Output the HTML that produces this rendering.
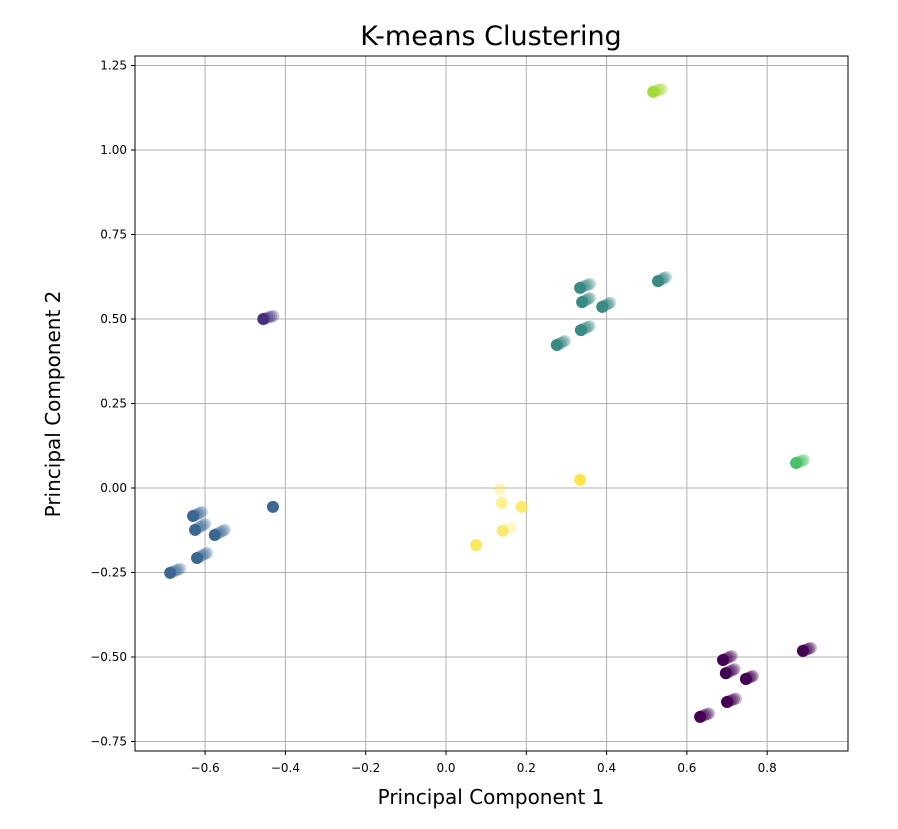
<!DOCTYPE html>
<html><head><meta charset="utf-8"><style>
body{margin:0;background:#fff;font-family:"Liberation Sans","DejaVu Sans",sans-serif}
</style></head><body>
<svg id="chart" width="898" height="824" xmlns="http://www.w3.org/2000/svg">
<text x="491" y="45" text-anchor="middle" font-size="27" font-family="DejaVu Sans, sans-serif">K-means Clustering</text>
<g id="grid"></g>
<g id="pts"></g>
<rect x="135" y="56" width="713" height="695" fill="none" stroke="#000" stroke-width="1"/>
<g id="ticks" font-size="12" font-family="DejaVu Sans, sans-serif"></g>
<text x="491" y="804" text-anchor="middle" font-size="20" font-family="DejaVu Sans, sans-serif">Principal Component 1</text>
<text transform="translate(60,404) rotate(-90)" text-anchor="middle" font-size="20" font-family="DejaVu Sans, sans-serif">Principal Component 2</text>
</svg>
<script>
const xTicks=[-0.6,-0.4,-0.2,0.0,0.2,0.4,0.6,0.8];
const xTickLabels=["−0.6","−0.4","−0.2","0.0","0.2","0.4","0.6","0.8"];
const yTicks=[-0.75,-0.5,-0.25,0,0.25,0.5,0.75,1.0,1.25];
const yTickLabels=["−0.75","−0.50","−0.25","0.00","0.25","0.50","0.75","1.00","1.25"];
const ptX=[-0.630,-0.625,-0.576,-0.620,-0.687,-0.431,0.334,0.339,0.389,0.336,0.276,0.528,-0.455,0.516,0.872,0.334,0.134,0.139,0.141,0.188,0.075,0.161,0.690,0.697,0.747,0.700,0.633,0.889];
const ptY=[-0.083,-0.124,-0.139,-0.207,-0.251,-0.056,0.592,0.550,0.536,0.467,0.423,0.612,0.500,1.172,0.074,0.024,-0.003,-0.044,-0.127,-0.056,-0.169,-0.118,-0.509,-0.548,-0.565,-0.633,-0.677,-0.482];
const ptDX=[0.022,0.025,0.025,0.025,0.025,0,0.025,0.02,0.02,0.022,0.02,0.02,0.025,0.022,0.02,0,0,0,0,0,0,0,0.022,0.022,0.018,0.022,0.022,0.02];
const ptDY=[0.012,0.018,0.015,0.015,0.012,0,0.012,0.012,0.012,0.012,0.012,0.012,0.009,0.009,0.009,0,0,0,0,0,0,0,0.012,0.012,0.009,0.01,0.01,0.009];
const ptCluster=[0,0,0,0,0,0,1,1,1,1,1,1,2,3,4,5,5,5,5,5,5,5,6,6,6,6,6,6];
const ptAlpha=[1,1,1,1,1,1,1,1,1,1,1,1,1,1,1,1,0.35,0.6,0.8,0.8,0.9,0.3,1,1,1,1,1,1];
const clusterColors=["#3b6792","#3a8a84","#46307e","#a5db36","#4ac16d","#fde64b","#440154"];
const NS="http://www.w3.org/2000/svg";
const X=v=>446+v*401.5, Y=v=>488-v*338;
const grid=document.getElementById('grid'),ticks=document.getElementById('ticks'),pts=document.getElementById('pts');
xTicks.forEach((t,i)=>{
 const l=document.createElementNS(NS,'line');l.setAttribute('x1',X(t));l.setAttribute('x2',X(t));l.setAttribute('y1',56);l.setAttribute('y2',751);l.setAttribute('stroke','#b0b0b0');
 
 
 grid.appendChild(l);
 const k=document.createElementNS(NS,'line');k.setAttribute('x1',X(t));k.setAttribute('x2',X(t));k.setAttribute('y1',751);k.setAttribute('y2',755);k.setAttribute('stroke','#000');ticks.appendChild(k);
 const tx=document.createElementNS(NS,'text');tx.setAttribute('x',X(t));tx.setAttribute('y',772);tx.setAttribute('text-anchor','middle');tx.textContent=xTickLabels[i];
 
 
 ticks.appendChild(tx);
});
yTicks.forEach((t,i)=>{
 const l=document.createElementNS(NS,'line');l.setAttribute('y1',Y(t));l.setAttribute('y2',Y(t));l.setAttribute('x1',135);l.setAttribute('x2',848);l.setAttribute('stroke','#b0b0b0');
 
 
 grid.appendChild(l);
 const k=document.createElementNS(NS,'line');k.setAttribute('y1',Y(t));k.setAttribute('y2',Y(t));k.setAttribute('x1',131);k.setAttribute('x2',135);k.setAttribute('stroke','#000');ticks.appendChild(k);
 const tx=document.createElementNS(NS,'text');tx.setAttribute('x',127);tx.setAttribute('y',Y(t)+4);tx.setAttribute('text-anchor','end');tx.textContent=yTickLabels[i];
 
 
 ticks.appendChild(tx);
});
ptX.forEach((x,i)=>{
 const g=document.createElementNS(NS,'g');
 
 
 const n=(ptDX[i]||ptDY[i])?6:1;
 for(let s=n-1;s>=0;s--){
  const f=n>1?s/(n-1):0;
  const c=document.createElementNS(NS,'circle');
  c.setAttribute('cx',X(x+ptDX[i]*f));c.setAttribute('cy',Y(ptY[i]+ptDY[i]*f));c.setAttribute('r',6);
  c.setAttribute('fill',clusterColors[ptCluster[i]]);
  c.setAttribute('fill-opacity',ptAlpha[i]*(s===0?1:0.28));
  g.appendChild(c);
 }
 pts.appendChild(g);
});
</script>
</body></html>
